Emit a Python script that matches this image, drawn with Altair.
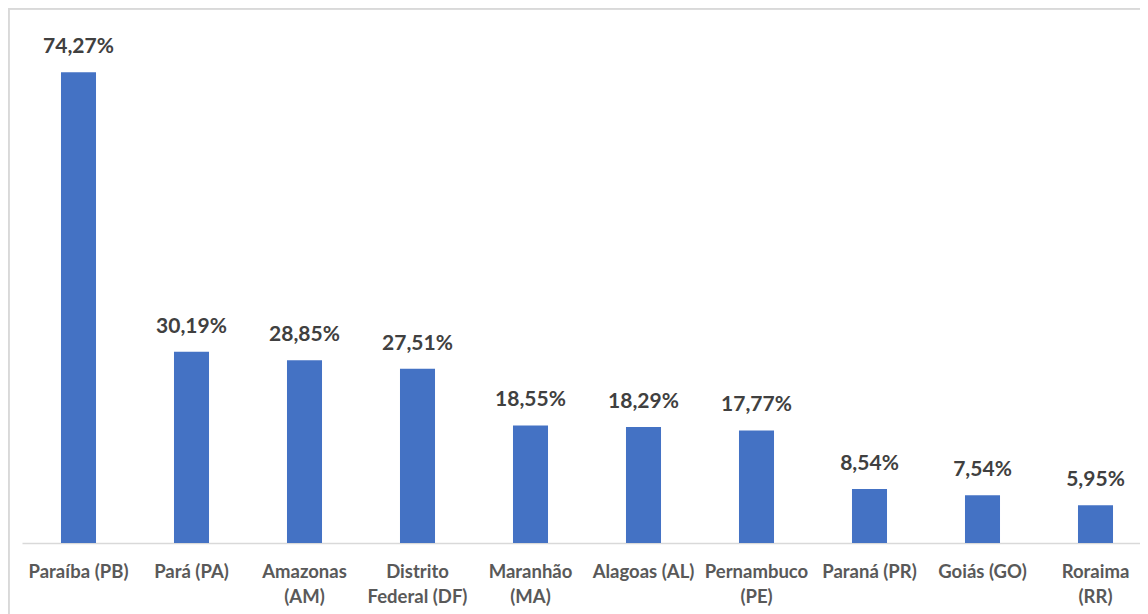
import altair as alt
import pandas as pd

categories = ["Paraíba (PB)", "Pará (PA)", "Amazonas|(AM)", "Distrito|Federal (DF)",
              "Maranhão|(MA)", "Alagoas (AL)", "Pernambuco|(PE)", "Paraná (PR)",
              "Goiás (GO)", "Roraima|(RR)"]
values = [74.27, 30.19, 28.85, 27.51, 18.55, 18.29, 17.77, 8.54, 7.54, 5.95]

df = pd.DataFrame({
    "estado": categories,
    "valor": values,
    "rotulo": [f"{v:.2f}".replace(".", ",") + "%" for v in values],
})

W, H = 1130, 507
FONT = "Lato"

x = alt.X("estado:N", sort=None, title=None,
          scale=alt.Scale(paddingInner=0.69, paddingOuter=0.345),
          axis=alt.Axis(labelAngle=0, labelExpr="split(datum.label, '|')",
                        labelFont=FONT, labelFontSize=18.5, labelFontWeight="bold",
                        labelColor="#595959", labelLineHeight=25, labelPadding=19,
                        ticks=False, domainColor="#d9d9d9", domainWidth=1.5,
                        labelBaseline="top", labelOverlap=False))
y = alt.Y("valor:Q", title=None, scale=alt.Scale(domain=[0, 80]), axis=None)

border = alt.Chart(df).mark_rect(fill=None, stroke="#d9d9d9", strokeWidth=1.5).encode(
    x=alt.value(-13.5), x2=alt.value(W + 30), y=alt.value(-27.5), y2=alt.value(H + 120)
)

bars = alt.Chart(df).mark_bar(color="#4472C4").encode(x=x, y=y)
text = alt.Chart(df).mark_text(dy=-25, font=FONT, fontSize=21, fontWeight="bold",
                               color="#404040").encode(x=x, y=y, text="rotulo:N")

chart = alt.layer(border, bars, text).properties(
    width=W, height=H,
    autosize=alt.AutoSizeParams(type="none"),
    padding={"left": 14, "top": 28, "right": -12, "bottom": 71},
).configure_view(stroke=None)

chart.save("out.html", embed_options={"renderer": "svg", "actions": False})
